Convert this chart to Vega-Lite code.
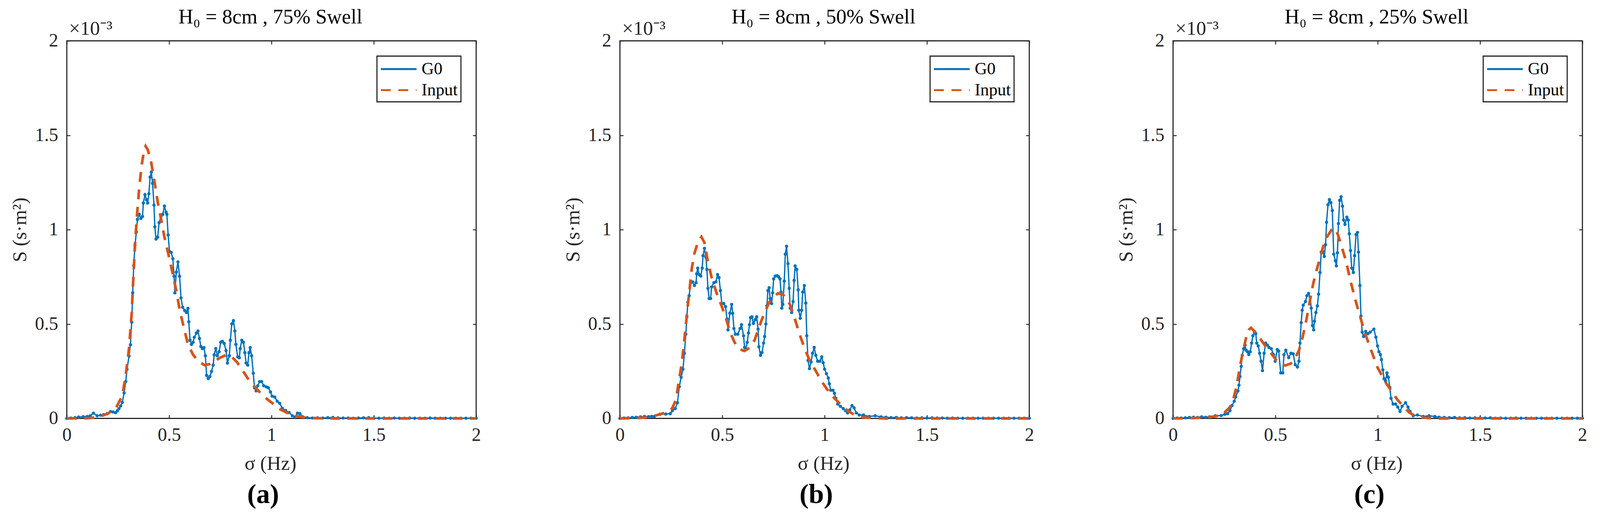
{
  "$schema": "https://vega.github.io/schema/vega-lite/v6.json",
  "background": "white",
  "padding": {"left": 24, "top": 15.5, "right": 10, "bottom": 10},
  "bounds": "flush",
  "spacing": 368,
  "config": {
    "font": "Liberation Serif",
    "view": {"stroke": "#262626", "strokeWidth": 2.9},
    "axis": {
      "grid": false, "domain": false,
      "tickSize": -8.75, "tickWidth": 2.4, "tickColor": "#262626",
      "labelFont": "Liberation Serif", "labelFontSize": 47.7, "labelColor": "#262626",
      "labelFlush": false, "labelOverlap": false, "labelBound": false,
      "titleFont": "Liberation Serif", "titleFontSize": 50.6, "titleColor": "#262626", "titleFontWeight": "normal"
    },
    "legend": {
      "orient": "top-right", "offset": 38.9, "title": null,
      "strokeColor": "#262626", "strokeWidth": 2.9, "fillColor": "white", "padding": 7.8,
      "symbolType": "M-2,0H2", "symbolSize": 2090, "symbolStrokeWidth": 4.9, "symbolOffset": 22.4,
      "labelFont": "Liberation Serif", "labelFontSize": 43.8, "labelColor": "black",
      "labelOffset": 33, "rowPadding": 5.8
    },
    "title": {"font": "Liberation Serif", "color": "black"}
  },
  "resolve": {"scale": {"color": "independent", "strokeDash": "independent"}},
  "datasets": {
    "aG0": [
      {"f":0,"S":0},{"f":0.02,"S":0.002},{"f":0.04,"S":0.004},{"f":0.058,"S":0.007},{"f":0.08,"S":0.009},{"f":0.1,"S":0.01},{"f":0.115,"S":0.014},{"f":0.13,"S":0.028},{"f":0.148,"S":0.014},{"f":0.165,"S":0.017},{"f":0.18,"S":0.02},{"f":0.197,"S":0.025},{"f":0.214,"S":0.036},{"f":0.226,"S":0.034},{"f":0.238,"S":0.03},{"f":0.247,"S":0.04},{"f":0.255,"S":0.052},{"f":0.263,"S":0.066},{"f":0.271,"S":0.085},{"f":0.28,"S":0.135},{"f":0.288,"S":0.195},{"f":0.294,"S":0.26},{"f":0.304,"S":0.33},{"f":0.311,"S":0.39},{"f":0.317,"S":0.51},{"f":0.322,"S":0.665},{"f":0.327,"S":0.81},{"f":0.333,"S":0.917},{"f":0.34,"S":0.988},{"f":0.345,"S":1.054},{"f":0.354,"S":1.081},{"f":0.362,"S":1.059},{"f":0.37,"S":1.07},{"f":0.374,"S":1.141},{"f":0.382,"S":1.185},{"f":0.39,"S":1.158},{"f":0.395,"S":1.141},{"f":0.401,"S":1.19},{"f":0.407,"S":1.278},{"f":0.413,"S":1.305},{"f":0.419,"S":1.245},{"f":0.426,"S":1.13},{"f":0.43,"S":1.015},{"f":0.436,"S":0.95},{"f":0.444,"S":0.96},{"f":0.451,"S":1.037},{"f":0.46,"S":1.07},{"f":0.469,"S":1.081},{"f":0.477,"S":1.125},{"f":0.485,"S":1.092},{"f":0.489,"S":1.081},{"f":0.495,"S":0.972},{"f":0.502,"S":0.884},{"f":0.51,"S":0.879},{"f":0.518,"S":0.846},{"f":0.524,"S":0.753},{"f":0.528,"S":0.665},{"f":0.535,"S":0.775},{"f":0.543,"S":0.829},{"f":0.551,"S":0.753},{"f":0.558,"S":0.638},{"f":0.566,"S":0.589},{"f":0.576,"S":0.572},{"f":0.584,"S":0.561},{"f":0.592,"S":0.583},{"f":0.596,"S":0.512},{"f":0.602,"S":0.414},{"f":0.609,"S":0.392},{"f":0.617,"S":0.403},{"f":0.623,"S":0.43},{"f":0.633,"S":0.452},{"f":0.641,"S":0.463},{"f":0.648,"S":0.424},{"f":0.655,"S":0.381},{"f":0.662,"S":0.37},{"f":0.67,"S":0.375},{"f":0.677,"S":0.332},{"f":0.683,"S":0.228},{"f":0.691,"S":0.211},{"f":0.699,"S":0.222},{"f":0.707,"S":0.249},{"f":0.715,"S":0.282},{"f":0.72,"S":0.337},{"f":0.728,"S":0.37},{"f":0.735,"S":0.332},{"f":0.744,"S":0.353},{"f":0.752,"S":0.403},{"f":0.76,"S":0.408},{"f":0.769,"S":0.397},{"f":0.778,"S":0.359},{"f":0.785,"S":0.293},{"f":0.794,"S":0.332},{"f":0.799,"S":0.414},{"f":0.806,"S":0.501},{"f":0.814,"S":0.518},{"f":0.821,"S":0.463},{"f":0.826,"S":0.392},{"f":0.835,"S":0.326},{"f":0.843,"S":0.321},{"f":0.847,"S":0.37},{"f":0.855,"S":0.414},{"f":0.863,"S":0.403},{"f":0.87,"S":0.348},{"f":0.876,"S":0.293},{"f":0.884,"S":0.282},{"f":0.89,"S":0.348},{"f":0.896,"S":0.375},{"f":0.903,"S":0.332},{"f":0.911,"S":0.239},{"f":0.917,"S":0.162},{"f":0.925,"S":0.146},{"f":0.933,"S":0.173},{"f":0.942,"S":0.195},{"f":0.952,"S":0.195},{"f":0.962,"S":0.173},{"f":0.975,"S":0.167},{"f":0.985,"S":0.162},{"f":0.995,"S":0.14},{"f":1.003,"S":0.118},{"f":1.016,"S":0.113},{"f":1.028,"S":0.091},{"f":1.04,"S":0.08},{"f":1.053,"S":0.053},{"f":1.069,"S":0.042},{"f":1.086,"S":0.031},{"f":1.102,"S":0.014},{"f":1.114,"S":0.007},{"f":1.127,"S":0.028},{"f":1.139,"S":0.025},{"f":1.151,"S":0.009},{"f":1.175,"S":0.004},{"f":1.2,"S":0.002},{"f":1.225,"S":0.003},{"f":1.25,"S":0.002},{"f":1.275,"S":0.004},{"f":1.3,"S":0.005},{"f":1.325,"S":0.003},{"f":1.35,"S":0.002},{"f":1.375,"S":0.002},{"f":1.4,"S":0.001},{"f":1.425,"S":0.002},{"f":1.45,"S":0.003},{"f":1.475,"S":0.004},{"f":1.5,"S":0.002},{"f":1.525,"S":0.001},{"f":1.55,"S":0.002},{"f":1.575,"S":0.001},{"f":1.6,"S":0.002},{"f":1.625,"S":0.001},{"f":1.65,"S":0.001},{"f":1.675,"S":0.002},{"f":1.7,"S":0.001},{"f":1.725,"S":0.001},{"f":1.75,"S":0.001},{"f":1.775,"S":0.002},{"f":1.8,"S":0.001},{"f":1.825,"S":0.001},{"f":1.85,"S":0.001},{"f":1.875,"S":0.001},{"f":1.9,"S":0.001},{"f":1.925,"S":0.001},{"f":1.95,"S":0.001},{"f":1.975,"S":0.001},{"f":2,"S":0.001}
    ],
    "aIn": [
      {"f":0,"S":0},{"f":0.1,"S":0.001},{"f":0.15,"S":0.006},{"f":0.2,"S":0.025},{"f":0.24,"S":0.055},{"f":0.271,"S":0.12},{"f":0.288,"S":0.23},{"f":0.304,"S":0.37},{"f":0.317,"S":0.556},{"f":0.325,"S":0.742},{"f":0.333,"S":0.917},{"f":0.344,"S":1.092},{"f":0.354,"S":1.223},{"f":0.366,"S":1.344},{"f":0.376,"S":1.41},{"f":0.385,"S":1.442},{"f":0.395,"S":1.425},{"f":0.411,"S":1.365},{"f":0.428,"S":1.256},{"f":0.444,"S":1.147},{"f":0.46,"S":1.059},{"f":0.477,"S":0.96},{"f":0.498,"S":0.862},{"f":0.518,"S":0.764},{"f":0.535,"S":0.676},{"f":0.551,"S":0.578},{"f":0.572,"S":0.479},{"f":0.592,"S":0.392},{"f":0.617,"S":0.337},{"f":0.646,"S":0.299},{"f":0.674,"S":0.282},{"f":0.699,"S":0.288},{"f":0.724,"S":0.304},{"f":0.748,"S":0.321},{"f":0.781,"S":0.337},{"f":0.806,"S":0.326},{"f":0.831,"S":0.299},{"f":0.855,"S":0.26},{"f":0.888,"S":0.206},{"f":0.913,"S":0.173},{"f":0.946,"S":0.135},{"f":0.979,"S":0.102},{"f":1.012,"S":0.074},{"f":1.044,"S":0.047},{"f":1.086,"S":0.025},{"f":1.127,"S":0.011},{"f":1.17,"S":0.004},{"f":1.22,"S":0.001},{"f":1.3,"S":0},{"f":1.5,"S":0},{"f":1.75,"S":0},{"f":2,"S":0}
    ],
    "bG0": [
      {"f":0,"S":0},{"f":0.02,"S":0.002},{"f":0.04,"S":0.003},{"f":0.06,"S":0.005},{"f":0.08,"S":0.006},{"f":0.1,"S":0.008},{"f":0.12,"S":0.01},{"f":0.14,"S":0.009},{"f":0.155,"S":0.011},{"f":0.168,"S":0.01},{"f":0.196,"S":0.022},{"f":0.224,"S":0.023},{"f":0.246,"S":0.025},{"f":0.256,"S":0.041},{"f":0.27,"S":0.052},{"f":0.281,"S":0.083},{"f":0.29,"S":0.168},{"f":0.299,"S":0.218},{"f":0.308,"S":0.261},{"f":0.315,"S":0.345},{"f":0.322,"S":0.446},{"f":0.327,"S":0.538},{"f":0.332,"S":0.615},{"f":0.338,"S":0.65},{"f":0.346,"S":0.719},{"f":0.355,"S":0.723},{"f":0.364,"S":0.704},{"f":0.372,"S":0.719},{"f":0.375,"S":0.766},{"f":0.38,"S":0.796},{"f":0.387,"S":0.762},{"f":0.395,"S":0.754},{"f":0.402,"S":0.796},{"f":0.406,"S":0.862},{"f":0.413,"S":0.901},{"f":0.42,"S":0.854},{"f":0.425,"S":0.789},{"f":0.43,"S":0.689},{"f":0.436,"S":0.635},{"f":0.443,"S":0.635},{"f":0.448,"S":0.696},{"f":0.459,"S":0.719},{"f":0.469,"S":0.723},{"f":0.477,"S":0.762},{"f":0.484,"S":0.746},{"f":0.491,"S":0.677},{"f":0.498,"S":0.608},{"f":0.507,"S":0.608},{"f":0.516,"S":0.592},{"f":0.523,"S":0.527},{"f":0.528,"S":0.469},{"f":0.537,"S":0.557},{"f":0.546,"S":0.604},{"f":0.551,"S":0.557},{"f":0.557,"S":0.476},{"f":0.564,"S":0.446},{"f":0.576,"S":0.446},{"f":0.587,"S":0.476},{"f":0.594,"S":0.496},{"f":0.604,"S":0.438},{"f":0.609,"S":0.376},{"f":0.615,"S":0.365},{"f":0.622,"S":0.403},{"f":0.628,"S":0.453},{"f":0.633,"S":0.496},{"f":0.638,"S":0.534},{"f":0.645,"S":0.538},{"f":0.652,"S":0.503},{"f":0.661,"S":0.523},{"f":0.668,"S":0.538},{"f":0.675,"S":0.473},{"f":0.679,"S":0.38},{"f":0.687,"S":0.334},{"f":0.694,"S":0.349},{"f":0.702,"S":0.399},{"f":0.707,"S":0.434},{"f":0.713,"S":0.5},{"f":0.718,"S":0.596},{"f":0.723,"S":0.677},{"f":0.729,"S":0.692},{"f":0.734,"S":0.635},{"f":0.741,"S":0.608},{"f":0.746,"S":0.665},{"f":0.751,"S":0.739},{"f":0.759,"S":0.754},{"f":0.768,"S":0.756},{"f":0.775,"S":0.75},{"f":0.782,"S":0.739},{"f":0.787,"S":0.669},{"f":0.791,"S":0.584},{"f":0.796,"S":0.604},{"f":0.803,"S":0.727},{"f":0.808,"S":0.87},{"f":0.814,"S":0.912},{"f":0.821,"S":0.82},{"f":0.827,"S":0.689},{"f":0.832,"S":0.584},{"f":0.839,"S":0.561},{"f":0.846,"S":0.619},{"f":0.851,"S":0.731},{"f":0.856,"S":0.808},{"f":0.864,"S":0.789},{"f":0.871,"S":0.681},{"f":0.874,"S":0.573},{"f":0.881,"S":0.53},{"f":0.888,"S":0.573},{"f":0.893,"S":0.669},{"f":0.901,"S":0.704},{"f":0.908,"S":0.611},{"f":0.913,"S":0.438},{"f":0.919,"S":0.307},{"f":0.926,"S":0.264},{"f":0.934,"S":0.299},{"f":0.941,"S":0.345},{"f":0.949,"S":0.376},{"f":0.957,"S":0.334},{"f":0.966,"S":0.303},{"f":0.977,"S":0.303},{"f":0.986,"S":0.326},{"f":0.993,"S":0.295},{"f":1.0,"S":0.261},{"f":1.009,"S":0.237},{"f":1.018,"S":0.214},{"f":1.023,"S":0.183},{"f":1.03,"S":0.149},{"f":1.041,"S":0.149},{"f":1.048,"S":0.133},{"f":1.055,"S":0.106},{"f":1.064,"S":0.076},{"f":1.077,"S":0.064},{"f":1.091,"S":0.052},{"f":1.102,"S":0.041},{"f":1.112,"S":0.029},{"f":1.123,"S":0.045},{"f":1.134,"S":0.068},{"f":1.144,"S":0.056},{"f":1.155,"S":0.029},{"f":1.169,"S":0.018},{"f":1.19,"S":0.018},{"f":1.219,"S":0.01},{"f":1.247,"S":0.014},{"f":1.276,"S":0.008},{"f":1.3,"S":0.006},{"f":1.325,"S":0.004},{"f":1.35,"S":0.005},{"f":1.375,"S":0.003},{"f":1.4,"S":0.004},{"f":1.425,"S":0.003},{"f":1.45,"S":0.002},{"f":1.475,"S":0.003},{"f":1.5,"S":0.002},{"f":1.525,"S":0.003},{"f":1.55,"S":0.002},{"f":1.575,"S":0.002},{"f":1.6,"S":0.001},{"f":1.625,"S":0.002},{"f":1.65,"S":0.001},{"f":1.675,"S":0.001},{"f":1.7,"S":0.001},{"f":1.725,"S":0.001},{"f":1.75,"S":0.001},{"f":1.775,"S":0.001},{"f":1.8,"S":0.001},{"f":1.825,"S":0.001},{"f":1.85,"S":0.001},{"f":1.875,"S":0.001},{"f":1.9,"S":0.001},{"f":1.925,"S":0.001},{"f":1.95,"S":0.001},{"f":1.975,"S":0.001},{"f":2,"S":0.001}
    ],
    "bIn": [
      {"f":0,"S":0},{"f":0.1,"S":0.003},{"f":0.15,"S":0.008},{"f":0.196,"S":0.022},{"f":0.239,"S":0.037},{"f":0.256,"S":0.055},{"f":0.274,"S":0.099},{"f":0.288,"S":0.199},{"f":0.302,"S":0.291},{"f":0.313,"S":0.399},{"f":0.322,"S":0.492},{"f":0.331,"S":0.592},{"f":0.342,"S":0.7},{"f":0.351,"S":0.793},{"f":0.363,"S":0.87},{"f":0.381,"S":0.935},{"f":0.398,"S":0.962},{"f":0.413,"S":0.931},{"f":0.427,"S":0.847},{"f":0.448,"S":0.746},{"f":0.473,"S":0.662},{"f":0.498,"S":0.592},{"f":0.516,"S":0.538},{"f":0.537,"S":0.461},{"f":0.558,"S":0.407},{"f":0.58,"S":0.369},{"f":0.608,"S":0.357},{"f":0.636,"S":0.376},{"f":0.658,"S":0.415},{"f":0.675,"S":0.469},{"f":0.693,"S":0.523},{"f":0.711,"S":0.569},{"f":0.729,"S":0.615},{"f":0.75,"S":0.642},{"f":0.771,"S":0.662},{"f":0.793,"S":0.658},{"f":0.814,"S":0.638},{"f":0.832,"S":0.6},{"f":0.849,"S":0.546},{"f":0.867,"S":0.484},{"f":0.885,"S":0.423},{"f":0.906,"S":0.361},{"f":0.927,"S":0.307},{"f":0.956,"S":0.253},{"f":0.984,"S":0.199},{"f":1.013,"S":0.153},{"f":1.048,"S":0.106},{"f":1.077,"S":0.076},{"f":1.112,"S":0.041},{"f":1.148,"S":0.018},{"f":1.19,"S":0.005},{"f":1.25,"S":0.001},{"f":1.3,"S":0},{"f":1.5,"S":0},{"f":1.75,"S":0},{"f":2,"S":0}
    ],
    "cG0": [
      {"f":0,"S":0},{"f":0.02,"S":0.002},{"f":0.04,"S":0.002},{"f":0.06,"S":0.003},{"f":0.08,"S":0.005},{"f":0.1,"S":0.006},{"f":0.12,"S":0.005},{"f":0.14,"S":0.008},{"f":0.16,"S":0.006},{"f":0.178,"S":0.008},{"f":0.206,"S":0.014},{"f":0.235,"S":0.015},{"f":0.253,"S":0.022},{"f":0.267,"S":0.025},{"f":0.278,"S":0.041},{"f":0.288,"S":0.068},{"f":0.299,"S":0.091},{"f":0.306,"S":0.114},{"f":0.317,"S":0.145},{"f":0.322,"S":0.176},{"f":0.327,"S":0.222},{"f":0.333,"S":0.276},{"f":0.338,"S":0.334},{"f":0.345,"S":0.369},{"f":0.352,"S":0.388},{"f":0.357,"S":0.361},{"f":0.364,"S":0.353},{"f":0.37,"S":0.338},{"f":0.377,"S":0.353},{"f":0.384,"S":0.399},{"f":0.39,"S":0.438},{"f":0.397,"S":0.461},{"f":0.404,"S":0.449},{"f":0.409,"S":0.399},{"f":0.416,"S":0.384},{"f":0.423,"S":0.345},{"f":0.43,"S":0.303},{"f":0.437,"S":0.253},{"f":0.445,"S":0.345},{"f":0.452,"S":0.399},{"f":0.461,"S":0.388},{"f":0.469,"S":0.376},{"f":0.48,"S":0.369},{"f":0.491,"S":0.338},{"f":0.499,"S":0.303},{"f":0.509,"S":0.365},{"f":0.516,"S":0.357},{"f":0.526,"S":0.241},{"f":0.536,"S":0.241},{"f":0.542,"S":0.338},{"f":0.551,"S":0.361},{"f":0.565,"S":0.322},{"f":0.576,"S":0.345},{"f":0.587,"S":0.342},{"f":0.597,"S":0.284},{"f":0.608,"S":0.272},{"f":0.615,"S":0.303},{"f":0.62,"S":0.399},{"f":0.626,"S":0.507},{"f":0.631,"S":0.573},{"f":0.636,"S":0.6},{"f":0.647,"S":0.619},{"f":0.654,"S":0.65},{"f":0.662,"S":0.662},{"f":0.67,"S":0.642},{"f":0.675,"S":0.584},{"f":0.681,"S":0.492},{"f":0.687,"S":0.469},{"f":0.691,"S":0.515},{"f":0.698,"S":0.561},{"f":0.705,"S":0.596},{"f":0.711,"S":0.658},{"f":0.718,"S":0.773},{"f":0.724,"S":0.881},{"f":0.731,"S":0.885},{"f":0.739,"S":0.858},{"f":0.745,"S":0.92},{"f":0.75,"S":1.039},{"f":0.757,"S":1.132},{"f":0.764,"S":1.159},{"f":0.771,"S":1.143},{"f":0.778,"S":1.101},{"f":0.785,"S":0.87},{"f":0.793,"S":0.835},{"f":0.798,"S":0.808},{"f":0.803,"S":0.877},{"f":0.808,"S":1.032},{"f":0.814,"S":1.155},{"f":0.821,"S":1.174},{"f":0.828,"S":1.124},{"f":0.833,"S":1.051},{"f":0.84,"S":1.028},{"f":0.849,"S":1.066},{"f":0.856,"S":1.051},{"f":0.861,"S":0.978},{"f":0.867,"S":0.889},{"f":0.873,"S":0.796},{"f":0.881,"S":0.773},{"f":0.887,"S":0.862},{"f":0.894,"S":0.974},{"f":0.901,"S":0.985},{"f":0.906,"S":0.881},{"f":0.913,"S":0.704},{"f":0.918,"S":0.542},{"f":0.924,"S":0.457},{"f":0.931,"S":0.434},{"f":0.941,"S":0.461},{"f":0.952,"S":0.449},{"f":0.963,"S":0.457},{"f":0.981,"S":0.473},{"f":0.991,"S":0.43},{"f":0.999,"S":0.384},{"f":1.006,"S":0.353},{"f":1.013,"S":0.338},{"f":1.018,"S":0.311},{"f":1.025,"S":0.257},{"f":1.031,"S":0.21},{"f":1.038,"S":0.199},{"f":1.045,"S":0.241},{"f":1.052,"S":0.218},{"f":1.059,"S":0.164},{"f":1.065,"S":0.106},{"f":1.075,"S":0.076},{"f":1.087,"S":0.076},{"f":1.098,"S":0.06},{"f":1.109,"S":0.037},{"f":1.119,"S":0.064},{"f":1.136,"S":0.083},{"f":1.148,"S":0.06},{"f":1.158,"S":0.037},{"f":1.173,"S":0.014},{"f":1.194,"S":0.018},{"f":1.222,"S":0.01},{"f":1.251,"S":0.014},{"f":1.279,"S":0.01},{"f":1.3,"S":0.006},{"f":1.325,"S":0.005},{"f":1.35,"S":0.004},{"f":1.375,"S":0.005},{"f":1.4,"S":0.003},{"f":1.425,"S":0.004},{"f":1.45,"S":0.002},{"f":1.475,"S":0.003},{"f":1.5,"S":0.002},{"f":1.525,"S":0.002},{"f":1.55,"S":0.003},{"f":1.575,"S":0.001},{"f":1.6,"S":0.002},{"f":1.625,"S":0.001},{"f":1.65,"S":0.001},{"f":1.675,"S":0.002},{"f":1.7,"S":0.001},{"f":1.725,"S":0.001},{"f":1.75,"S":0.001},{"f":1.775,"S":0.001},{"f":1.8,"S":0.001},{"f":1.825,"S":0.001},{"f":1.85,"S":0.001},{"f":1.875,"S":0.001},{"f":1.9,"S":0.001},{"f":1.925,"S":0.001},{"f":1.95,"S":0.001},{"f":1.975,"S":0.001},{"f":2,"S":0.001}
    ],
    "cIn": [
      {"f":0,"S":0},{"f":0.1,"S":0.002},{"f":0.15,"S":0.005},{"f":0.2,"S":0.01},{"f":0.24,"S":0.018},{"f":0.278,"S":0.06},{"f":0.292,"S":0.091},{"f":0.31,"S":0.168},{"f":0.327,"S":0.276},{"f":0.343,"S":0.361},{"f":0.356,"S":0.423},{"f":0.37,"S":0.469},{"f":0.381,"S":0.48},{"f":0.398,"S":0.461},{"f":0.42,"S":0.43},{"f":0.441,"S":0.399},{"f":0.462,"S":0.369},{"f":0.484,"S":0.338},{"f":0.505,"S":0.307},{"f":0.526,"S":0.288},{"f":0.548,"S":0.28},{"f":0.576,"S":0.291},{"f":0.597,"S":0.322},{"f":0.615,"S":0.36},{"f":0.633,"S":0.43},{"f":0.651,"S":0.52},{"f":0.668,"S":0.62},{"f":0.684,"S":0.71},{"f":0.7,"S":0.78},{"f":0.718,"S":0.85},{"f":0.736,"S":0.92},{"f":0.754,"S":0.965},{"f":0.775,"S":1.0},{"f":0.79,"S":1.008},{"f":0.805,"S":0.975},{"f":0.817,"S":0.935},{"f":0.832,"S":0.88},{"f":0.846,"S":0.83},{"f":0.862,"S":0.75},{"f":0.876,"S":0.69},{"f":0.89,"S":0.63},{"f":0.91,"S":0.555},{"f":0.935,"S":0.46},{"f":0.968,"S":0.36},{"f":1.0,"S":0.267},{"f":1.045,"S":0.18},{"f":1.096,"S":0.099},{"f":1.153,"S":0.032},{"f":1.19,"S":0.008},{"f":1.25,"S":0.002},{"f":1.3,"S":0},{"f":1.5,"S":0},{"f":1.75,"S":0},{"f":2,"S":0}
    ]
  },
  "hconcat": [
    {
      "width": 1048, "height": 966,
      "title": {"text": "(a)", "orient": "bottom", "frame": "group", "fontSize": 70, "fontWeight": "bold", "dx": -21.4, "offset": 19.5},
      "resolve": {"axis": {"x": "independent", "y": "independent"}},
      "layer": [
        {
          "data": {"name": "aG0"},
          "mark": {"type": "line", "strokeWidth": 3.4, "point": {"filled": true, "size": 66}},
          "encoding": {
            "x": {"field": "f", "type": "quantitative", "scale": {"domain": [0, 2], "nice": false},
              "axis": {"orient": "bottom", "values": [0, 0.5, 1, 1.5, 2], "format": "~g", "labelPadding": 28.2, "title": "σ (Hz)", "titleX": 521, "titleY": 131.3, "titleBaseline": "alphabetic"}},
            "y": {"field": "S", "type": "quantitative", "scale": {"domain": [0, 2], "nice": false},
              "axis": {"orient": "left", "values": [0, 0.5, 1, 1.5, 2], "format": "~g", "labelPadding": 31.1, "title": "S (s·m²)", "titlePadding": 11.7}},
            "color": {"datum": "G0", "scale": {"domain": ["G0", "Input"], "range": ["#0072BD", "#D95319"]}},
            "strokeDash": {"datum": "G0", "scale": {"domain": ["G0", "Input"], "range": [[1, 0], [25.3, 19.5]]}}
          }
        },
        {
          "data": {"name": "aIn"},
          "mark": {"type": "line", "strokeWidth": 6.8},
          "encoding": {
            "x": {"field": "f", "type": "quantitative",
              "axis": {"orient": "top", "values": [0, 0.5, 1, 1.5, 2], "labels": false, "title": "H₀ = 8cm , 75% Swell", "titleFontSize": 52.5, "titleX": 520.6, "titleY": -44.7, "titleBaseline": "alphabetic", "titleColor": "black"}},
            "y": {"field": "S", "type": "quantitative",
              "axis": {"orient": "right", "values": [0, 0.5, 1, 1.5, 2], "labels": false, "title": "×10⁻³", "titleAngle": 0, "titleAlign": "left", "titleBaseline": "alphabetic", "titleX": -1042.8, "titleY": -16.5}},
            "color": {"datum": "Input"},
            "strokeDash": {"datum": "Input"}
          }
        }
      ]
    },
    {
      "width": 1048, "height": 966,
      "title": {"text": "(b)", "orient": "bottom", "frame": "group", "fontSize": 70, "fontWeight": "bold", "dx": -21.4, "offset": 19.5},
      "resolve": {"axis": {"x": "independent", "y": "independent"}},
      "layer": [
        {
          "data": {"name": "bG0"},
          "mark": {"type": "line", "strokeWidth": 3.4, "point": {"filled": true, "size": 66}},
          "encoding": {
            "x": {"field": "f", "type": "quantitative", "scale": {"domain": [0, 2], "nice": false},
              "axis": {"orient": "bottom", "values": [0, 0.5, 1, 1.5, 2], "format": "~g", "labelPadding": 28.2, "title": "σ (Hz)", "titleX": 521, "titleY": 131.3, "titleBaseline": "alphabetic"}},
            "y": {"field": "S", "type": "quantitative", "scale": {"domain": [0, 2], "nice": false},
              "axis": {"orient": "left", "values": [0, 0.5, 1, 1.5, 2], "format": "~g", "labelPadding": 31.1, "title": "S (s·m²)", "titlePadding": 11.7}},
            "color": {"datum": "G0", "scale": {"domain": ["G0", "Input"], "range": ["#0072BD", "#D95319"]}},
            "strokeDash": {"datum": "G0", "scale": {"domain": ["G0", "Input"], "range": [[1, 0], [25.3, 19.5]]}}
          }
        },
        {
          "data": {"name": "bIn"},
          "mark": {"type": "line", "strokeWidth": 6.8},
          "encoding": {
            "x": {"field": "f", "type": "quantitative",
              "axis": {"orient": "top", "values": [0, 0.5, 1, 1.5, 2], "labels": false, "title": "H₀ = 8cm , 50% Swell", "titleFontSize": 52.5, "titleX": 520.6, "titleY": -44.7, "titleBaseline": "alphabetic", "titleColor": "black"}},
            "y": {"field": "S", "type": "quantitative",
              "axis": {"orient": "right", "values": [0, 0.5, 1, 1.5, 2], "labels": false, "title": "×10⁻³", "titleAngle": 0, "titleAlign": "left", "titleBaseline": "alphabetic", "titleX": -1042.8, "titleY": -16.5}},
            "color": {"datum": "Input"},
            "strokeDash": {"datum": "Input"}
          }
        }
      ]
    },
    {
      "width": 1048, "height": 966,
      "title": {"text": "(c)", "orient": "bottom", "frame": "group", "fontSize": 70, "fontWeight": "bold", "dx": -21.4, "offset": 19.5},
      "resolve": {"axis": {"x": "independent", "y": "independent"}},
      "layer": [
        {
          "data": {"name": "cG0"},
          "mark": {"type": "line", "strokeWidth": 3.4, "point": {"filled": true, "size": 66}},
          "encoding": {
            "x": {"field": "f", "type": "quantitative", "scale": {"domain": [0, 2], "nice": false},
              "axis": {"orient": "bottom", "values": [0, 0.5, 1, 1.5, 2], "format": "~g", "labelPadding": 28.2, "title": "σ (Hz)", "titleX": 521, "titleY": 131.3, "titleBaseline": "alphabetic"}},
            "y": {"field": "S", "type": "quantitative", "scale": {"domain": [0, 2], "nice": false},
              "axis": {"orient": "left", "values": [0, 0.5, 1, 1.5, 2], "format": "~g", "labelPadding": 31.1, "title": "S (s·m²)", "titlePadding": 11.7}},
            "color": {"datum": "G0", "scale": {"domain": ["G0", "Input"], "range": ["#0072BD", "#D95319"]}},
            "strokeDash": {"datum": "G0", "scale": {"domain": ["G0", "Input"], "range": [[1, 0], [25.3, 19.5]]}}
          }
        },
        {
          "data": {"name": "cIn"},
          "mark": {"type": "line", "strokeWidth": 6.8},
          "encoding": {
            "x": {"field": "f", "type": "quantitative",
              "axis": {"orient": "top", "values": [0, 0.5, 1, 1.5, 2], "labels": false, "title": "H₀ = 8cm , 25% Swell", "titleFontSize": 52.5, "titleX": 520.6, "titleY": -44.7, "titleBaseline": "alphabetic", "titleColor": "black"}},
            "y": {"field": "S", "type": "quantitative",
              "axis": {"orient": "right", "values": [0, 0.5, 1, 1.5, 2], "labels": false, "title": "×10⁻³", "titleAngle": 0, "titleAlign": "left", "titleBaseline": "alphabetic", "titleX": -1042.8, "titleY": -16.5}},
            "color": {"datum": "Input"},
            "strokeDash": {"datum": "Input"}
          }
        }
      ]
    }
  ]
}
